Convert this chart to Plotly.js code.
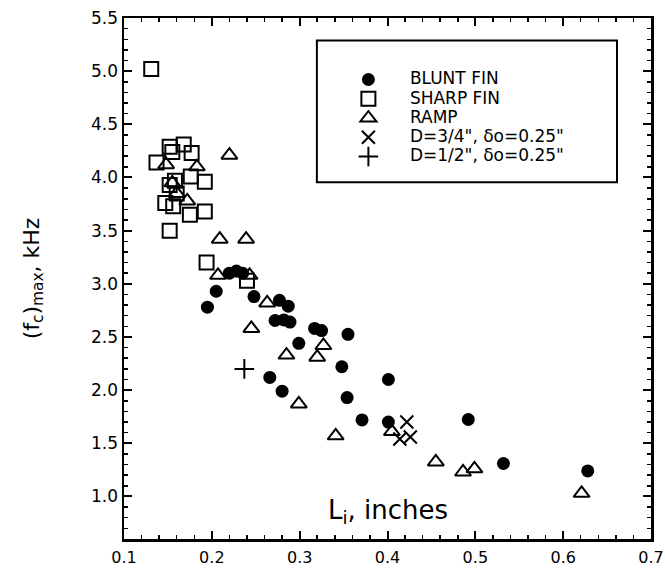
<!DOCTYPE html>
<html><head><meta charset="utf-8">
<script src="https://cdn.plot.ly/plotly-3.0.1.min.js"></script>
<style>body{margin:0;background:#fff}</style>
</head><body>
<div id="chart" style="width:665px;height:569px"></div>
<script>
// Blunt fin (filled circles)
const bluntX = [0.195,0.205,0.220,0.228,0.235,0.248,0.277,0.287,0.272,0.282,0.289,0.317,0.325,0.355,0.299,0.348,0.266,0.280,0.401,0.354,0.371,0.401,0.492,0.532,0.628];
const bluntY = [2.78,2.93,3.10,3.12,3.10,2.88,2.845,2.79,2.655,2.66,2.64,2.58,2.56,2.525,2.44,2.22,2.12,1.99,2.10,1.93,1.72,1.70,1.724,1.31,1.24];
// Sharp fin (open squares)
const sharpX = [0.131,0.137,0.152,0.155,0.168,0.177,0.176,0.192,0.152,0.158,0.160,0.147,0.156,0.175,0.192,0.152,0.194,0.240];
const sharpY = [5.02,4.14,4.29,4.24,4.31,4.23,4.01,3.96,3.93,3.97,3.85,3.76,3.73,3.65,3.68,3.50,3.20,3.03];
// Ramp (open triangles)
const rampX = [0.148,0.183,0.155,0.160,0.172,0.220,0.209,0.239,0.207,0.243,0.263,0.245,0.327,0.285,0.320,0.299,0.341,0.405,0.455,0.486,0.499,0.621];
const rampY = [4.12,4.10,3.95,3.85,3.78,4.21,3.42,3.42,3.08,3.08,2.82,2.58,2.42,2.33,2.31,1.87,1.57,1.61,1.325,1.23,1.26,1.03];
// D=3/4", delta0=0.25" (x marks)
const d34X = [0.422,0.414,0.426];
const d34Y = [1.70,1.54,1.56];
// D=1/2", delta0=0.25" (plus)
const d12X = [0.237];
const d12Y = [2.20];

const seriesNames = ['BLUNT FIN','SHARP FIN','RAMP','D=3/4", δo=0.25"','D=1/2", δo=0.25"'];
const xTitle = 'L<sub>i</sub>, inches';
const yTitle = '(f<sub>c</sub>)<sub>max</sub>, kHz';

const FONT = 'DejaVu Sans, Arial, sans-serif';
const nm = s => '<span style="font-size:17px">' + s + '</span>';

const traces = [
  {x: bluntX, y: bluntY, name: nm(seriesNames[0]), mode: 'markers', type: 'scatter',
   marker: {symbol: 'circle', size: 13, color: '#000'}},
  {x: sharpX, y: sharpY, name: nm(seriesNames[1]), mode: 'markers', type: 'scatter',
   marker: {symbol: 'square-open', size: 14, color: '#000', line: {width: 2, color: '#000'}}},
  {x: rampX, y: rampY, name: nm(seriesNames[2]), mode: 'markers', type: 'scatter',
   marker: {symbol: 'triangle-up-open', size: 14, color: '#000', line: {width: 2, color: '#000'}}},
  {x: d34X, y: d34Y, name: nm(seriesNames[3]), mode: 'markers', type: 'scatter',
   marker: {symbol: 'x-thin-open', size: 13, color: '#000', line: {width: 2, color: '#000'}}},
  {x: d12X, y: d12Y, name: nm(seriesNames[4]), mode: 'markers', type: 'scatter',
   marker: {symbol: 'cross-thin-open', size: 14, color: '#000', line: {width: 2, color: '#000'}}}
];

const axisCommon = {
  showline: true, linewidth: 2.5, linecolor: '#000', mirror: 'ticks',
  ticks: 'inside', ticklen: 8, tickwidth: 2, tickcolor: '#000',
  showgrid: false, zeroline: false, tickformat: '.1f',
  tickfont: {family: FONT, size: 17, color: '#000'}
};

const layout = {
  width: 665, height: 569,
  margin: {l: 124, r: 14, t: 18, b: 30},
  paper_bgcolor: '#fff', plot_bgcolor: '#fff',
  font: {family: FONT, color: '#000'},
  showlegend: true,
  xaxis: Object.assign({}, axisCommon, {
    range: [0.1, 0.7], tick0: 0.1, dtick: 0.1, ticklabelstandoff: 2,
    tickfont: {family: FONT, size: 16, color: '#000'},
    minor: {dtick: 0.02, ticks: 'inside', ticklen: 4, tickwidth: 1.5, tickcolor: '#000', showgrid: false}
  }),
  yaxis: Object.assign({}, axisCommon, {
    range: [0.6, 5.5], tick0: 1.0, dtick: 0.5,
    minor: {dtick: 0.1, ticks: 'inside', ticklen: 4, tickwidth: 1.5, tickcolor: '#000', showgrid: false},
    title: {text: yTitle, font: {family: FONT, size: 22, color: '#000'}, standoff: 46}
  }),
  legend: {
    x: 0.385, y: 0.91, xanchor: 'left', yanchor: 'top',
    bgcolor: 'rgba(0,0,0,0)', borderwidth: 0,
    font: {family: FONT, size: 12.5, color: '#000'},
    itemwidth: 73, tracegroupgap: 0
  },
  shapes: [{type: 'rect', xref: 'paper', yref: 'paper', x0: 0.366, x1: 0.9355, y0: 0.6846, y1: 0.957,
            line: {color: '#000', width: 2}, fillcolor: 'rgba(0,0,0,0)'}],
  annotations: [{text: xTitle, xref: 'paper', yref: 'paper', x: 0.5, y: 0.052,
                 xanchor: 'center', yanchor: 'middle', showarrow: false,
                 font: {family: FONT, size: 26, color: '#000'}}]
};

Plotly.newPlot('chart', traces, layout, {displayModeBar: false, staticPlot: true});
</script>
</body></html>
